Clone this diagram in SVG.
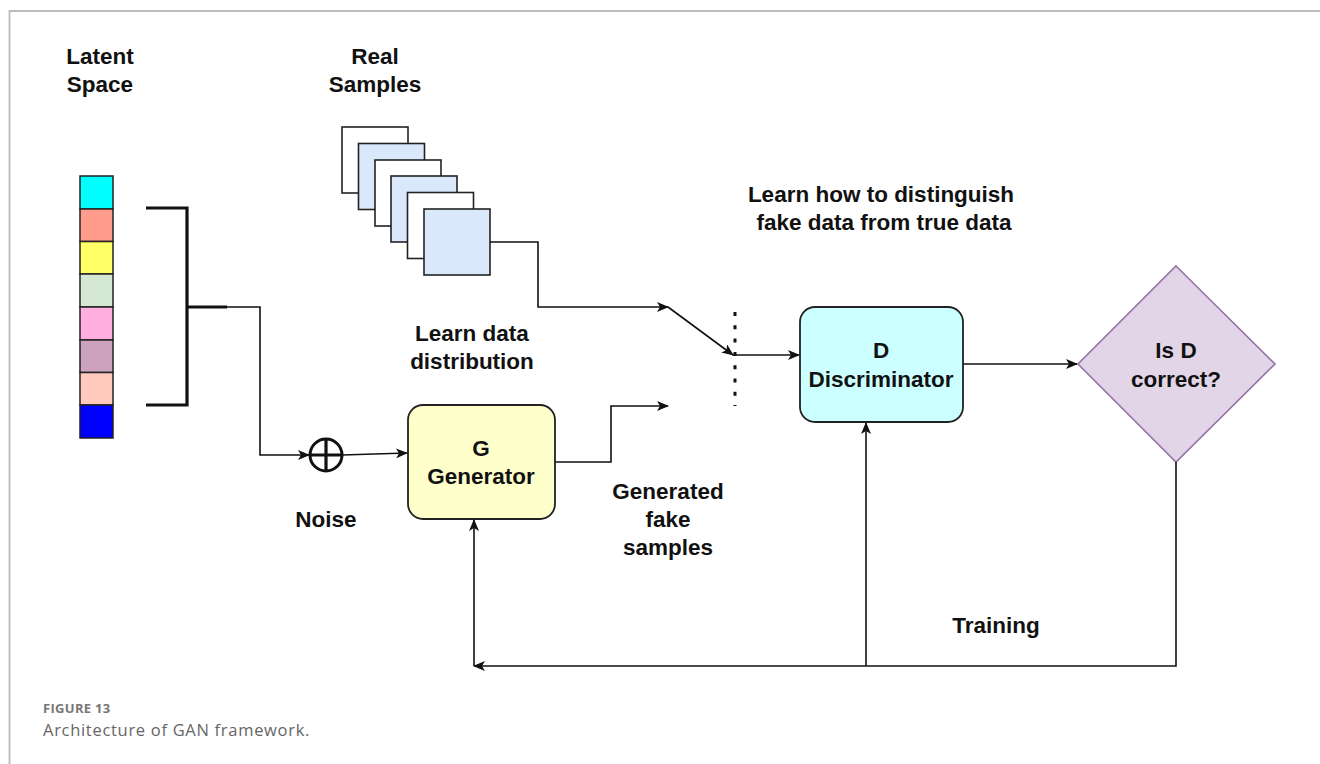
<svg xmlns="http://www.w3.org/2000/svg" width="1320" height="764" viewBox="0 0 1320 764">
<style>
.lbl{font-family:"Liberation Sans",Arial,sans-serif;font-weight:bold;font-size:22.5px;fill:#111;text-anchor:middle}
.ln{fill:none;stroke:#111;stroke-width:1.6}
.thick{fill:none;stroke:#111;stroke-width:3.2}
.cell{stroke:#222;stroke-width:1.5}
.card{stroke:#222;stroke-width:1.6}
.cap1{font-family:"Open Sans","Noto Sans",sans-serif;font-weight:bold;font-size:13px;letter-spacing:0.3px;fill:#777}
.cap2{font-family:"Open Sans","Noto Sans",sans-serif;font-size:16.5px;letter-spacing:0.7px;fill:#666}
</style>
<defs>
<marker id="arr" viewBox="0 0 12 10" refX="11" refY="5" markerWidth="12" markerHeight="10" markerUnits="userSpaceOnUse" orient="auto">
<path d="M0,0 L12,5 L0,10 L3,5 Z" fill="#111"/>
</marker>
</defs>
<rect width="1320" height="764" fill="#fff"/>
<path d="M1320,11 H9.5 V764" fill="none" stroke="#bbb" stroke-width="1.8"/>

<g id="latent-space">
<text class="lbl" x="100" y="64">Latent</text>
<text class="lbl" x="100" y="92">Space</text>
<rect class="cell" x="80" y="176" width="33" height="33" fill="#00FFFF"/>
<rect class="cell" x="80" y="209" width="33" height="32.5" fill="#FF9C8C"/>
<rect class="cell" x="80" y="241.5" width="33" height="32.5" fill="#FFFF66"/>
<rect class="cell" x="80" y="274" width="33" height="33" fill="#D5E8D4"/>
<rect class="cell" x="80" y="307" width="33" height="33" fill="#FFAEE0"/>
<rect class="cell" x="80" y="340" width="33" height="32.5" fill="#CDA2BE"/>
<rect class="cell" x="80" y="372.5" width="33" height="32.5" fill="#FFCABD"/>
<rect class="cell" x="80" y="405" width="33" height="33" fill="#0000FF"/>
</g>

<g id="bracket">
<path class="thick" d="M146,208 H187 V405 H146 M187,307 H227"/>
</g>

<g id="real-samples">
<text class="lbl" x="375" y="64">Real</text>
<text class="lbl" x="375" y="92">Samples</text>
<rect class="card" x="342" y="127" width="66" height="66" fill="#fff"/>
<rect class="card" x="358.5" y="143.5" width="66" height="66" fill="#DAE8FC"/>
<rect class="card" x="375" y="160" width="66" height="66" fill="#fff"/>
<rect class="card" x="391" y="176" width="66" height="66" fill="#DAE8FC"/>
<rect class="card" x="407.5" y="192.5" width="66" height="66" fill="#fff"/>
<rect class="card" x="424" y="209" width="66" height="66" fill="#DAE8FC"/>
</g>

<g id="noise">
<circle cx="326" cy="455" r="16" fill="#fff" stroke="#111" stroke-width="3"/>
<path d="M310,455 H342 M326,439 V471" stroke="#111" stroke-width="3.2"/>
<text class="lbl" x="326" y="527">Noise</text>
</g>

<g id="generator">
<rect x="408" y="405" width="147" height="114" rx="15" fill="#FFFFCC" stroke="#222" stroke-width="1.8"/>
<text class="lbl" x="481" y="456">G</text>
<text class="lbl" x="481" y="484">Generator</text>
</g>

<g id="discriminator">
<rect x="800" y="307" width="163" height="115" rx="15" fill="#CCFFFF" stroke="#222" stroke-width="1.8"/>
<text class="lbl" x="881" y="358">D</text>
<text class="lbl" x="881" y="387">Discriminator</text>
</g>

<g id="decision">
<polygon points="1176,266 1275,364 1176,462 1078,364" fill="#E1D5E7" stroke="#9673A6" stroke-width="1.6"/>
<text class="lbl" x="1176" y="358">Is D</text>
<text class="lbl" x="1176" y="387">correct?</text>
</g>

<g id="labels">
<text class="lbl" x="881" y="202">Learn how to distinguish</text>
<text class="lbl" x="884" y="230">fake data from true data</text>
<text class="lbl" x="472" y="341">Learn data</text>
<text class="lbl" x="472" y="369">distribution</text>
<text class="lbl" x="668" y="499">Generated</text>
<text class="lbl" x="668" y="527">fake</text>
<text class="lbl" x="668" y="555">samples</text>
<text class="lbl" x="996" y="633">Training</text>
</g>

<g id="connectors">
<path class="ln" d="M227,307 H260 V455 H309" marker-end="url(#arr)"/>
<path class="ln" d="M342,455 L407,453" marker-end="url(#arr)"/>
<path class="ln" d="M555,462 H611 V406 H668" marker-end="url(#arr)"/>
<path class="ln" d="M490,242 H538 V307 H668" marker-end="url(#arr)"/>
<path class="ln" d="M668,307 L733,355" marker-end="url(#arr)"/>
<path class="ln" d="M733,355 H799" marker-end="url(#arr)"/>
<path d="M735,312 V406" stroke="#111" stroke-width="3" stroke-dasharray="4,9.3" fill="none"/>
<path class="ln" d="M963,364 H1077" marker-end="url(#arr)"/>
<path class="ln" d="M1176,462 V666 H474" marker-end="url(#arr)"/>
<path class="ln" d="M474,666 V520" marker-end="url(#arr)"/>
<path class="ln" d="M866,666 V423" marker-end="url(#arr)"/>
</g>

<g id="caption">
<text class="cap1" x="43" y="713">FIGURE 13</text>
<text class="cap2" x="43" y="736">Architecture of GAN framework.</text>
</g>
</svg>
